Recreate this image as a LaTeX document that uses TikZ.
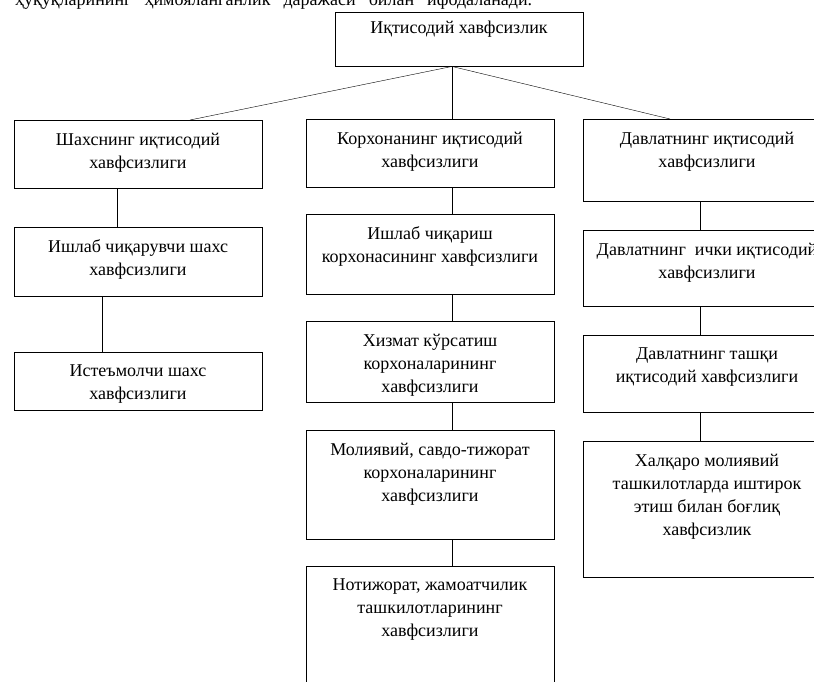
\documentclass[tikz,border=0pt]{standalone}
\usepackage{fontspec}
\setmainfont{Liberation Serif}
\usetikzlibrary{positioning}
\tikzset{
  blk/.style={draw, line width=0.9pt, minimum width=248pt, inner sep=0pt},
  txt/.style={anchor=north, align=center, inner sep=0pt, yshift=-13pt,
    font=\fontsize{18}{23}\selectfont},
  lbl/.style={label={[txt]north:{#1}}},
}
\begin{document}
\begin{tikzpicture}[x=1pt,y=1pt]
  \useasboundingbox (0,0) rectangle (814,-681);
  \clip (0,0) rectangle (814,-681);
  % cut-off line of the page text
  \node[anchor=base west, inner sep=0pt, font=\fontsize{18}{23}\selectfont] (lead) at (15,-5)
    {\makebox[517pt][s]{ҳуқуқларининг ҳимояланганлик даражаси билан ифодаланади.}};
  %TOP
  \node[blk, minimum height=54pt, label={[txt,yshift=4pt]north:Иқтисодий хавфсизлик}] (ixt) at (459,-39) {};
  %LEFT
  \node[blk, anchor=north, minimum height=68pt, lbl={Шахснинг иқтисодий\\хавфсизлиги}] (shaxs) at (138,-120) {};
  \node[blk, minimum height=69pt, below=38pt of shaxs, lbl={Ишлаб чиқарувчи шахс\\хавфсизлиги}] (ishlabshaxs) {};
  \node[blk, minimum height=58pt, below=55pt of ishlabshaxs, lbl={Истеъмолчи шахс\\хавфсизлиги}] (isteb) {};
  %MIDDLE
  \node[blk, anchor=north, minimum height=68pt, lbl={Корхонанинг иқтисодий\\хавфсизлиги}] (korx) at (430,-119) {};
  \node[blk, minimum height=80pt, below=26pt of korx, lbl={Ишлаб чиқариш\\корхонасининг хавфсизлиги}] (ishlabkorx) {};
  \node[blk, minimum height=81pt, below=26pt of ishlabkorx, lbl={Хизмат кўрсатиш\\корхоналарининг\\хавфсизлиги}] (xizmat) {};
  \node[blk, minimum height=109pt, below=27pt of xizmat, lbl={Молиявий, савдо-тижорат\\корхоналарининг\\хавфсизлиги}] (moliya) {};
  \node[blk, minimum height=150pt, below=26pt of moliya, lbl={Нотижорат, жамоатчилик\\ташкилотларининг\\хавфсизлиги}] (notij) {};
  %RIGHT
  \node[blk, anchor=north, minimum height=82pt, lbl={Давлатнинг иқтисодий\\хавфсизлиги}] (davl) at (707,-119) {};
  \node[blk, minimum height=76pt, below=28pt of davl, lbl={Давлатнинг\ \ ички иқтисодий\\хавфсизлиги}] (ichki) {};
  \node[blk, minimum height=77pt, below=28pt of ichki, lbl={Давлатнинг ташқи\\иқтисодий хавфсизлиги}] (tashqi) {};
  \node[blk, minimum height=136pt, below=28pt of tashqi, lbl={Халқаро молиявий\\ташкилотларда иштирок\\этиш билан боғлиқ\\хавфсизлик}] (xalqaro) {};
  %LINKS
  \coordinate (fan) at ([xshift=-7pt]ixt.south);
  \draw (fan) -- ([xshift=52pt]shaxs.north);
  \draw (fan) -- ([xshift=22pt]korx.north);
  \draw (fan) -- ([xshift=-37pt]davl.north);
  \draw ([xshift=-21pt]shaxs.south) -- ([xshift=-21pt]ishlabshaxs.north);
  \draw ([xshift=-36pt]ishlabshaxs.south) -- ([xshift=-36pt]isteb.north);
  \foreach \a/\b in {korx/ishlabkorx,ishlabkorx/xizmat,xizmat/moliya,moliya/notij}
    \draw ([xshift=22pt]\a.south) -- ([xshift=22pt]\b.north);
  \foreach \a/\b in {davl/ichki,ichki/tashqi,tashqi/xalqaro}
    \draw ([xshift=-7pt]\a.south) -- ([xshift=-7pt]\b.north);
\end{tikzpicture}
\end{document}
